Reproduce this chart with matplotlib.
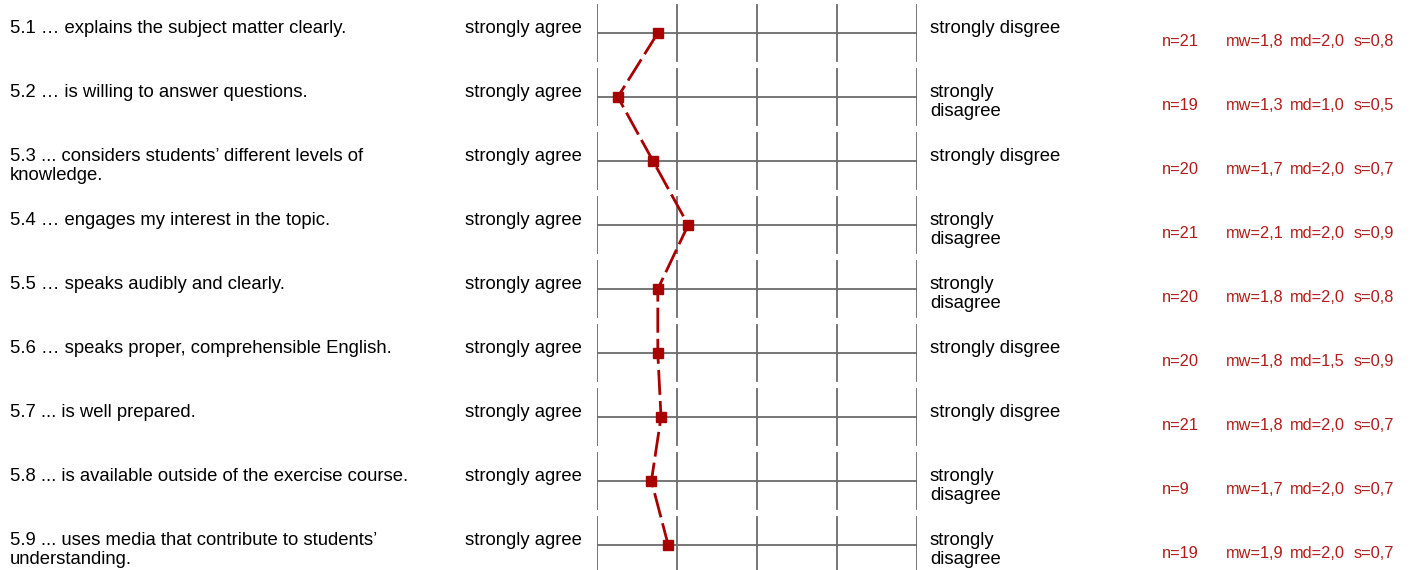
import matplotlib.pyplot as plt
from matplotlib.transforms import blended_transform_factory

plt.rcParams['font.family'] = ['Liberation Sans', 'DejaVu Sans']

# --- Survey items: lecturer evaluation, section 5 ---
questions = [
    "5.1 \u2026 explains the subject matter clearly.",
    "5.2 \u2026 is willing to answer questions.",
    "5.3 ... considers students\u2019 different levels of\nknowledge.",
    "5.4 \u2026 engages my interest in the topic.",
    "5.5 \u2026 speaks audibly and clearly.",
    "5.6 \u2026 speaks proper, comprehensible English.",
    "5.7 ... is well prepared.",
    "5.8 ... is available outside of the exercise course.",
    "5.9 ... uses media that contribute to students\u2019\nunderstanding.",
]
left_labels = ["strongly agree"] * 9
right_labels = [
    "strongly disgree", "strongly\ndisagree", "strongly disgree",
    "strongly\ndisagree", "strongly\ndisagree", "strongly disgree",
    "strongly disgree", "strongly\ndisagree", "strongly\ndisagree",
]
n_resp = [21, 19, 20, 21, 20, 20, 21, 9, 19]
means = [1.76, 1.26, 1.70, 2.14, 1.76, 1.76, 1.80, 1.68, 1.89]
medians = [2.0, 1.0, 2.0, 2.0, 2.0, 1.5, 2.0, 2.0, 2.0]
sds = [0.8, 0.5, 0.7, 0.9, 0.8, 0.9, 0.7, 0.7, 0.7]
scale = [1, 2, 3, 4, 5]

W, H = 1411, 570
ROW = 64.0          # pixels per item
TOP = 33.0          # pixel position of first item's scale line

fig = plt.figure(figsize=(W / 100, H / 100), dpi=100)
ax = fig.add_axes([597 / W, 0, 320 / W, 1])
ax.set_xlim(scale[0], scale[-1])
ax.set_ylim((H - TOP) / ROW, -TOP / ROW)
ax.axis('off')

rows = list(range(len(questions)))
grey = '#6b6b6b'
red_line = '#a80000'
red_text = '#b31b1b'

# grid: horizontal scale line and vertical ticks per item
half = 28 / ROW
for r in rows:
    ax.plot([scale[0], scale[-1]], [r, r], color=grey, lw=1.3, zorder=1)
    for s in scale:
        ax.plot([s, s], [r - half, r + half], color=grey, lw=1.3, zorder=1)

# mean profile
ax.plot(means, rows, color=red_line, lw=2.0, dashes=(9, 2.2),
        marker='s', markersize=6.5, zorder=3, clip_on=False)

trans = blended_transform_factory(fig.transFigure, ax.transData)
fs = 13.3
fs_stat = 11.8


def fx(px):
    return px / W


def de(v):
    return f"{v:.1f}".replace('.', ',')


for r in rows:
    ytop = r - 13 / ROW
    ax.text(fx(10), ytop, questions[r], transform=trans, fontsize=fs,
            va='top', ha='left', linespacing=1.12, clip_on=False)
    ax.text(fx(465), ytop, left_labels[r], transform=trans, fontsize=fs,
            va='top', ha='left', clip_on=False)
    ax.text(fx(930), ytop, right_labels[r], transform=trans, fontsize=fs,
            va='top', ha='left', linespacing=1.12, clip_on=False)
    ymid = r + 9 / ROW
    ax.text(fx(1162), ymid, f"n={n_resp[r]}", transform=trans,
            fontsize=fs_stat, color=red_text, va='center', ha='left',
            clip_on=False)
    ax.text(fx(1226), ymid, f"mw={de(means[r])}", transform=trans,
            fontsize=fs_stat, color=red_text, va='center', ha='left',
            clip_on=False)
    ax.text(fx(1290), ymid, f"md={de(medians[r])}", transform=trans,
            fontsize=fs_stat, color=red_text, va='center', ha='left',
            clip_on=False)
    ax.text(fx(1354), ymid, f"s={de(sds[r])}", transform=trans,
            fontsize=fs_stat, color=red_text, va='center', ha='left',
            clip_on=False)

fig.savefig('out.png', dpi=100)
